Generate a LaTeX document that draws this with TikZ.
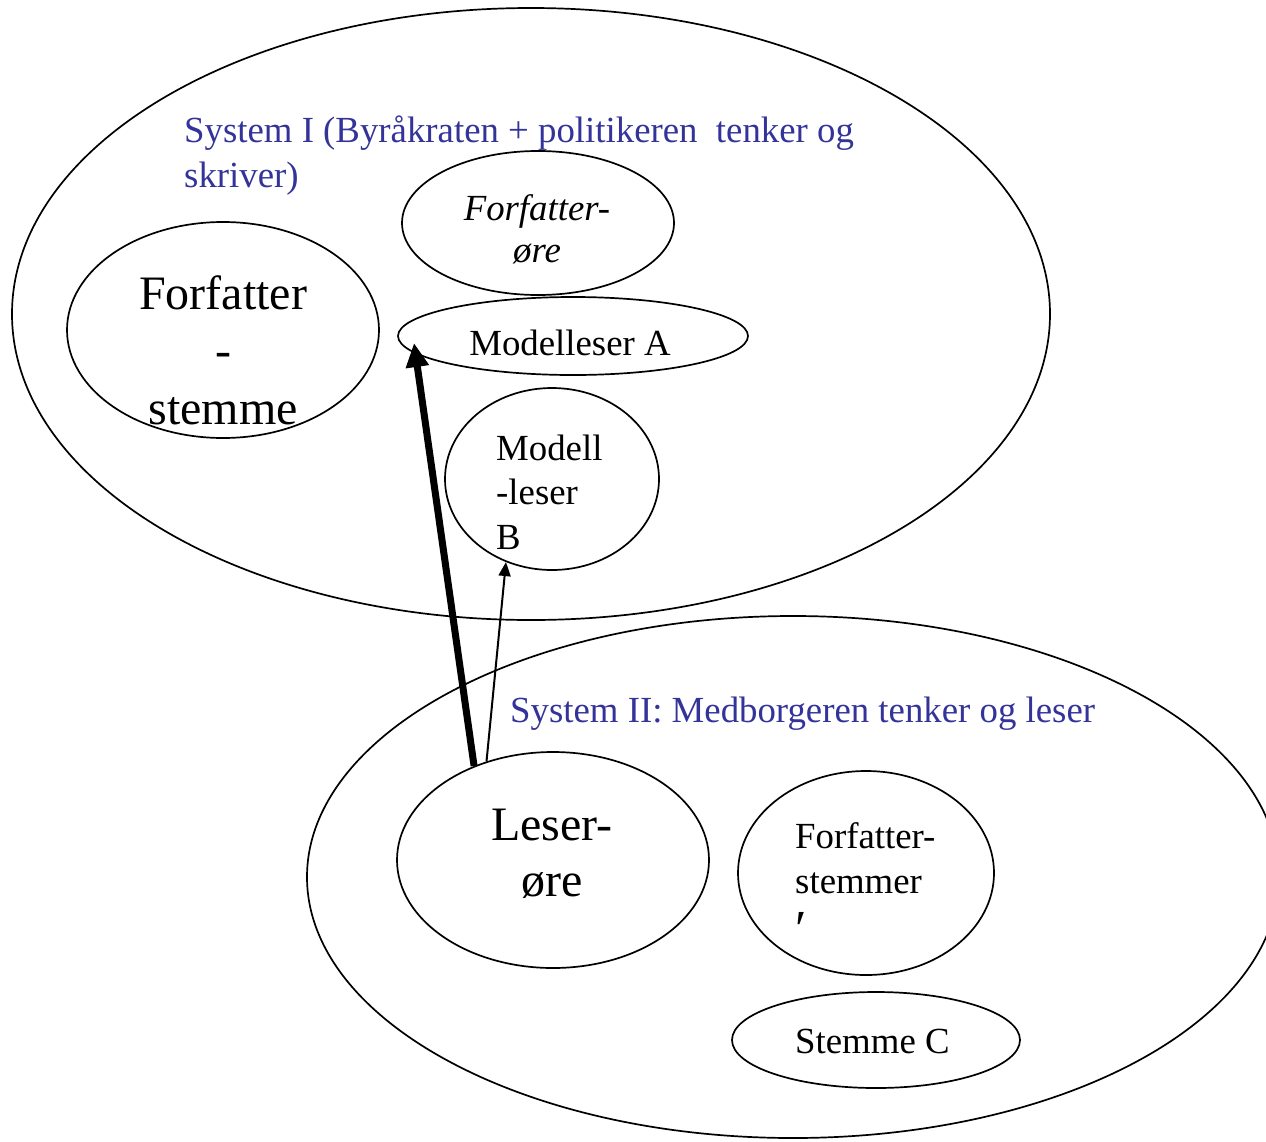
\documentclass[tikz,border=0pt]{standalone}
\usepackage{fontspec}
\setmainfont{Liberation Serif}
\usetikzlibrary{shapes.geometric,arrows.meta}
\definecolor{sysblue}{RGB}{51,51,153}
\begin{document}
\begin{tikzpicture}[x=1pt,y=-1pt,
  ell/.style 2 args={draw,ellipse,line width=1.7pt,inner sep=0pt,minimum width=#1,minimum height=#2},
  txt/.style={inner sep=0pt,font=\fontsize{36.8}{44.5}\selectfont},
  bigtxt/.style={inner sep=0pt,font=\fontsize{48}{57.5}\selectfont},
  thickarrow/.style={line width=7pt,-{Triangle[length=24pt,width=22pt]}},
  thinarrow/.style={line width=2pt,-{Triangle[length=14pt,width=12pt]}}]
\useasboundingbox (0,0) rectangle (1266,1141);
\clip (0,0) rectangle (1266,1141);
% ellipses
\node[ell={1038}{612}] (sys1) at (531,314) {};
\node[ell={972}{522}] (sys2) at (793,877) {};
\node[ell={312}{216}] (fstemme) at (223,330) {};
\node[ell={272}{144}] (fore) at (538,223) {};
\node[ell={350}{78}] (modA) at (573,336) {};
\node[ell={214}{182}] (modB) at (552,479) {};
\node[ell={312}{216}] (leser) at (553,860) {};
\node[ell={256}{204}] (fstemmer) at (866,873) {};
\node[ell={288}{96}] (stemC) at (876,1040) {};
% texts (multi-line nodes are anchored at the baseline of their last line)
\node[txt,text=sysblue,anchor=base west,align=left] (t1) at (184,187) {System I (Byråkraten + politikeren~ tenker og\\skriver)};
\node[txt,text=sysblue,anchor=base west] (t2) at (510,722) {System II: Medborgeren tenker og leser};
\node[txt,anchor=base,align=center,font=\fontsize{36.8}{42}\selectfont\itshape] (tfore) at (537,262) {Forfatter-\\øre};
\node[bigtxt,anchor=base,align=center] (tfst) at (223,424) {Forfatter\\-\\stemme};
\node[txt,anchor=base] (tA) at (570,355) {Modelleser A};
\node[txt,anchor=base west,align=left] (tB) at (496,549) {Modell\\-leser\\B};
\node[bigtxt,anchor=base,align=center,font=\fontsize{48}{56}\selectfont] (tL) at (552,896) {Leser-\\øre};
\node[txt,anchor=base west,align=left,font=\fontsize{36.8}{45}\selectfont] (tFs) at (795,938) {Forfatter-\\stemmer\\{\fontsize{52}{45}\selectfont\raisebox{-8pt}{′}}};
\node[txt,anchor=base west] (tC) at (795,1053) {Stemme C};
% arrows
\coordinate (tipA) at (414,343);
\draw[thickarrow] (leser.130) -- (tipA);
\draw[thinarrow] (leser.124) -- (modB.241);
\end{tikzpicture}
\end{document}
